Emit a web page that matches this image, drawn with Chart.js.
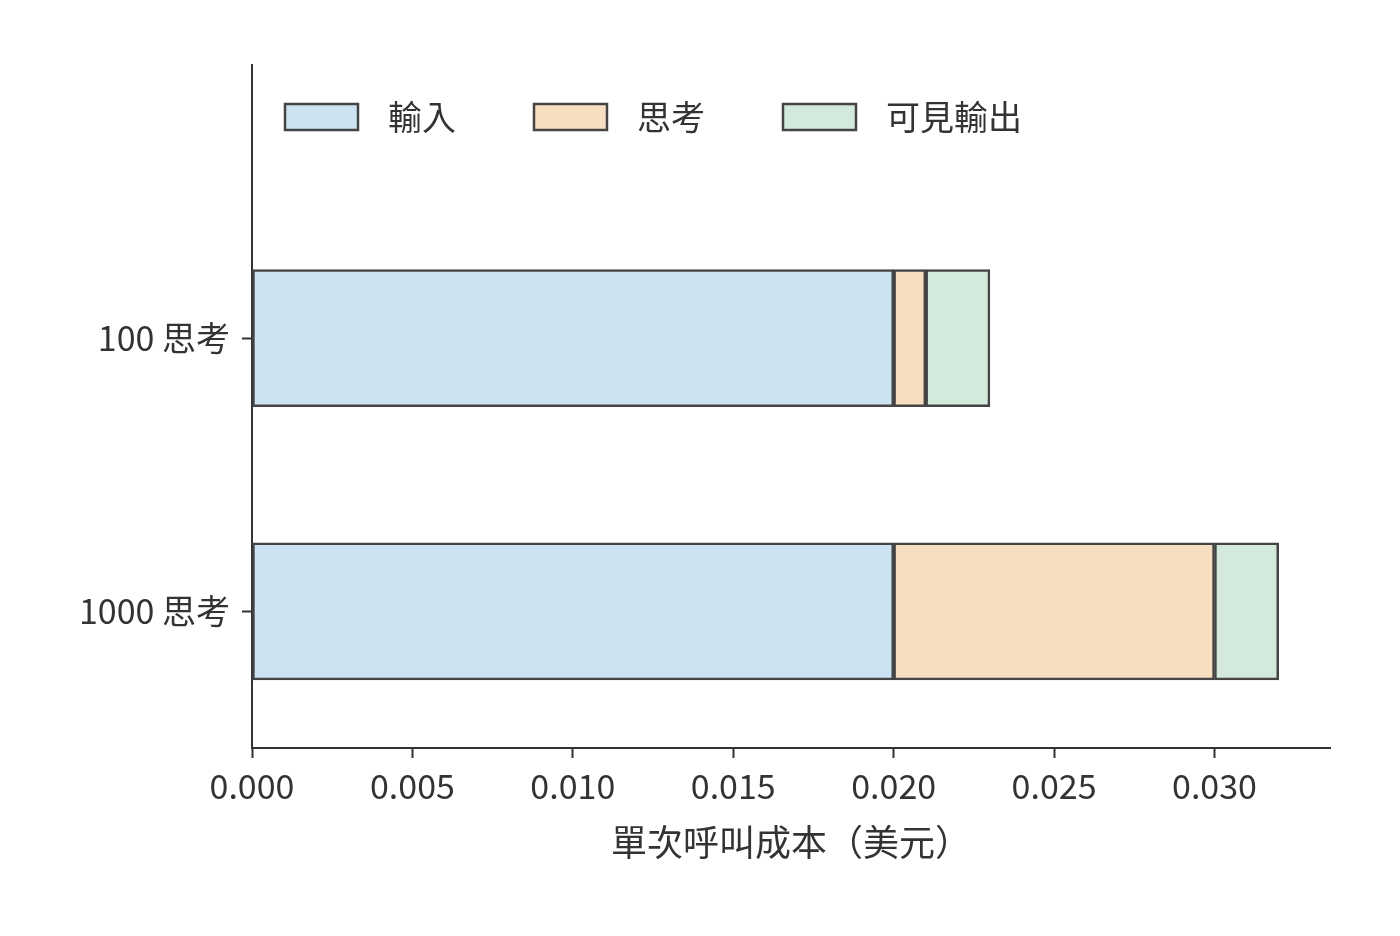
<!DOCTYPE html>
<html><head><meta charset="utf-8">
<script src="https://cdn.jsdelivr.net/npm/chart.js@4"></script>
<style>html,body{margin:0;background:#fff}#w{width:1400px;height:936px}</style>
</head><body><div id="w"><canvas id="c"></canvas></div>
<script>
const categories = ['', '', '100 思考', '', '1000 思考', ''];
const seriesNames = ['輸入', '思考', '可見輸出'];
const inputCost = [null, null, 0.020, null, 0.020, null];
const thinkingCost = [null, null, 0.001, null, 0.010, null];
const outputCost = [null, null, 0.002, null, 0.002, null];
const xTicks = [0, 0.005, 0.010, 0.015, 0.020, 0.025, 0.030];
const colors = ['#cce3f2', '#f8dec0', '#d2e9dc'];
const F = '"Noto Sans CJK TC","Noto Sans CJK SC",sans-serif';
const mk = (i, d) => ({label: seriesNames[i], data: d, backgroundColor: colors[i], borderColor: '#444', borderWidth: 2.5, borderSkipped: false, barThickness: 137});
const legendPlugin = {
  id: 'lg',
  afterDraw(ch) {
    const c = ch.ctx; const bx = [285, 534, 783];
    c.save(); c.font = '34px ' + F; c.textBaseline = 'middle';
    ch.data.datasets.forEach((ds, i) => {
      c.fillStyle = ds.backgroundColor; c.fillRect(bx[i], 104, 73, 26);
      c.strokeStyle = '#444'; c.lineWidth = 2.5; c.strokeRect(bx[i], 104, 73, 26);
      c.fillStyle = '#333'; c.fillText(ds.label, bx[i] + 103, 117);
    });
    c.restore();
  }
};
new Chart(document.getElementById('c'), {
  type: 'bar',
  data: {labels: categories, datasets: [mk(0, inputCost), mk(1, thinkingCost), mk(2, outputCost)]},
  options: {
    indexAxis: 'y', responsive: true, maintainAspectRatio: false, animation: false,
    layout: {padding: {top: 65, right: 70, left: 0, bottom: 68}},
    plugins: {legend: {display: false}, tooltip: {enabled: false}},
    scales: {
      x: {stacked: true, min: 0, max: 0.0336,
        afterBuildTicks: s => { s.ticks = xTicks.map(v => ({value: v})); },
        afterFit: s => { s.height = 120; },
        grid: {display: true, drawOnChartArea: false, tickLength: 10, tickColor: '#333', tickWidth: 2},
        border: {color: '#333', width: 2},
        ticks: {color: '#333', font: {family: F, size: 34}, padding: 8, maxRotation: 0, callback: v => v.toFixed(3)},
        title: {display: true, text: '單次呼叫成本（美元）', color: '#333', font: {family: F, size: 36}, padding: {top: 0}}
      },
      y: {stacked: true, offset: false,
        afterFit: s => { s.width = 252; },
        grid: {display: true, offset: false, drawOnChartArea: false, tickLength: 10, tickWidth: 2,
          tickColor: ctx => categories[ctx.index] ? '#333' : 'rgba(0,0,0,0)'},
        border: {color: '#333', width: 2},
        ticks: {color: '#333', font: {family: F, size: 34}, padding: 12, autoSkip: false}
      }
    }
  },
  plugins: [legendPlugin]
});
</script></body></html>
